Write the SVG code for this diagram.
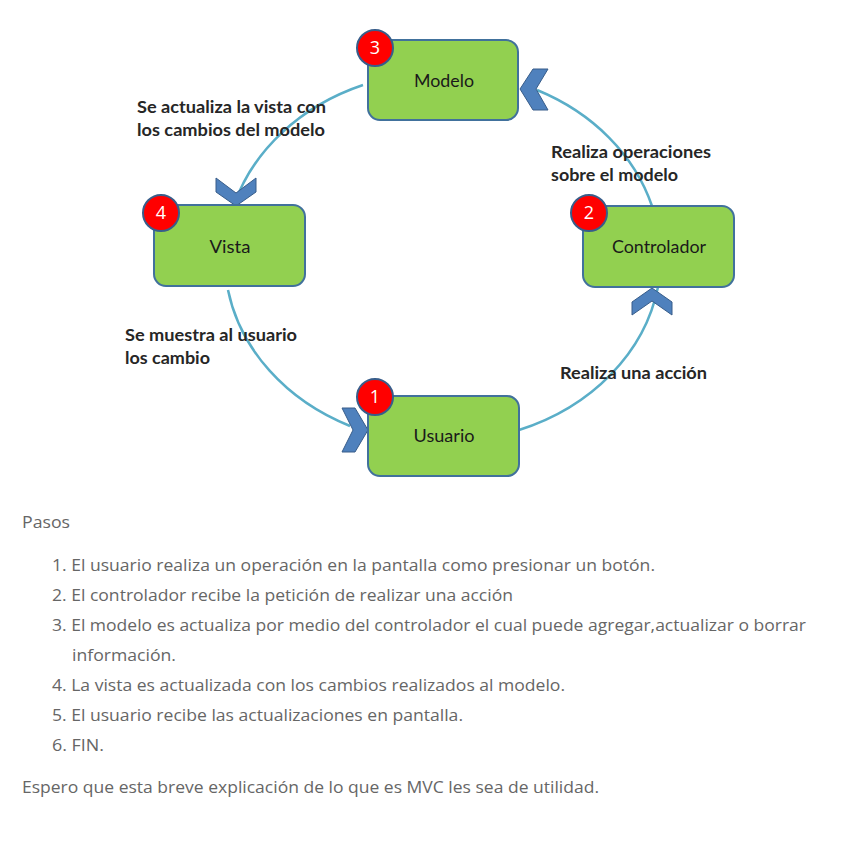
<svg xmlns="http://www.w3.org/2000/svg" width="844" height="848" viewBox="0 0 844 848">
<style>
.box{fill:#92d050;stroke:#41719c;stroke-width:2}
.badge{fill:#ff0000;stroke:#385d8a;stroke-width:2}
.bnum{font-family:"Open Sans","Liberation Sans",sans-serif;font-size:18px;fill:#ffffff;text-anchor:middle}
.ntext{font-family:Lato,"Liberation Sans",sans-serif;font-size:17px;fill:#1a1a1a;text-anchor:middle}
.lbl{font-family:Lato,"Liberation Sans",sans-serif;font-size:17px;font-weight:bold;fill:#262626}
.arc{fill:none;stroke:#5aaec8;stroke-width:2.5}
.chev{fill:#4f81bd;stroke:#385d8a;stroke-width:1}
.body{font-family:"Open Sans","Liberation Sans",sans-serif;font-size:17px;fill:#666666}
</style>
<rect width="844" height="848" fill="#ffffff"/>
<g id="connectors">
<path class="arc" d="M 228 290 A 218 186 0 0 0 350 426"/>
<path class="arc" d="M 519 430 A 218 186 0 0 0 658 287"/>
<path class="arc" d="M 652 206 A 218 186 0 0 0 537 90"/>
<path class="arc" d="M 363 85 A 218 186 0 0 0 234 205"/>
<polygon class="chev" points="533,69 548,69 536,89 548,110 533,110 520,89"/>
<polygon class="chev" points="216,178 236,193 256,178 256,192 236,206 216,192"/>
<polygon class="chev" points="652,288 672,302 672,315 652,301 632,315 632,302"/>
<polygon class="chev" points="342,408 355,408 368,430 355,452 342,452 353,430"/>
</g>
<g id="modelo">
<rect class="box" x="368" y="40" width="150" height="80" rx="12"/>
<text class="ntext" x="444" y="87" textLength="60" lengthAdjust="spacingAndGlyphs">Modelo</text>
<circle class="badge" cx="375" cy="48" r="18"/>
<text class="bnum" x="375" y="54">3</text>
</g>
<g id="vista">
<rect class="box" x="154" y="205" width="151" height="81" rx="12"/>
<text class="ntext" x="230" y="253" textLength="41" lengthAdjust="spacingAndGlyphs">Vista</text>
<circle class="badge" cx="161" cy="213" r="18"/>
<text class="bnum" x="161" y="219">4</text>
</g>
<g id="controlador">
<rect class="box" x="583" y="206" width="151" height="81" rx="12"/>
<text class="ntext" x="659" y="253" textLength="94" lengthAdjust="spacingAndGlyphs">Controlador</text>
<circle class="badge" cx="589" cy="213" r="18"/>
<text class="bnum" x="589" y="219">2</text>
</g>
<g id="usuario">
<rect class="box" x="368" y="396" width="151" height="80" rx="12"/>
<text class="ntext" x="444" y="442" textLength="61" lengthAdjust="spacingAndGlyphs">Usuario</text>
<circle class="badge" cx="375" cy="397" r="18"/>
<text class="bnum" x="375" y="403">1</text>
</g>
<g id="labels">
<text class="lbl" x="137" y="113" textLength="189" lengthAdjust="spacingAndGlyphs">Se actualiza la vista con</text>
<text class="lbl" x="137" y="136" textLength="188" lengthAdjust="spacingAndGlyphs">los cambios del modelo</text>
<text class="lbl" x="551" y="158" textLength="160" lengthAdjust="spacingAndGlyphs">Realiza operaciones</text>
<text class="lbl" x="551" y="181" textLength="127" lengthAdjust="spacingAndGlyphs">sobre el modelo</text>
<text class="lbl" x="125" y="341" textLength="172" lengthAdjust="spacingAndGlyphs">Se muestra al usuario</text>
<text class="lbl" x="125" y="364" textLength="85" lengthAdjust="spacingAndGlyphs">los cambio</text>
<text class="lbl" x="560" y="379" textLength="147" lengthAdjust="spacingAndGlyphs">Realiza una acción</text>
</g>
<g id="text">
<text class="body" x="22" y="528" textLength="48" lengthAdjust="spacingAndGlyphs">Pasos</text>
<text class="body" x="52" y="571" textLength="603" lengthAdjust="spacingAndGlyphs">1. El usuario realiza un operación en la pantalla como presionar un botón.</text>
<text class="body" x="52" y="601" textLength="461" lengthAdjust="spacingAndGlyphs">2. El controlador recibe la petición de realizar una acción</text>
<text class="body" x="52" y="631" textLength="754" lengthAdjust="spacingAndGlyphs">3. El modelo es actualiza por medio del controlador el cual puede agregar,actualizar o borrar</text>
<text class="body" x="72" y="661" textLength="104" lengthAdjust="spacingAndGlyphs">información.</text>
<text class="body" x="52" y="691" textLength="513" lengthAdjust="spacingAndGlyphs">4. La vista es actualizada con los cambios realizados al modelo.</text>
<text class="body" x="52" y="721" textLength="411" lengthAdjust="spacingAndGlyphs">5. El usuario recibe las actualizaciones en pantalla.</text>
<text class="body" x="52" y="751" textLength="52" lengthAdjust="spacingAndGlyphs">6. FIN.</text>
<text class="body" x="22" y="793" textLength="577" lengthAdjust="spacingAndGlyphs">Espero que esta breve explicación de lo que es MVC les sea de utilidad.</text>
</g>
</svg>
